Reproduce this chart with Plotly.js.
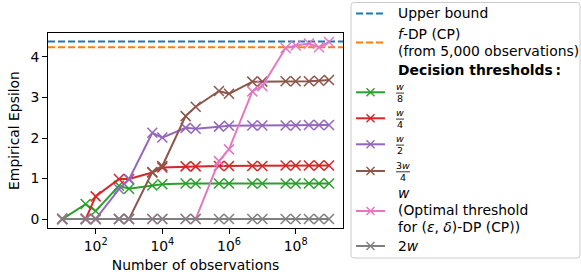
<!DOCTYPE html>
<html>
<head>
<meta charset="utf-8">
<script src="https://cdn.plot.ly/plotly-3.0.1.min.js"></script>
<style>html,body{margin:0;padding:0;background:#fff;}</style>
</head>
<body>
<div id="chart" style="width:581px;height:277px;"></div>
<script>
// ---- data ----
const observations = [10, 50, 100, 500, 1000, 5000, 1e4, 5e4, 1e5, 5e5, 1e6, 5e6, 1e7, 5e7, 1e8, 2.5e8, 5e8, 1e9];
const epsW8  = [0, 0.37, 0.20, 0.82, 0.75, 0.83, 0.86, 0.88, 0.88, 0.88, 0.88, 0.88, 0.88, 0.88, 0.88, 0.88, 0.88, 0.88];
const epsW4  = [0, 0, 0.56, 0.99, 0.99, 1.15, 1.27, 1.30, 1.30, 1.31, 1.31, 1.31, 1.31, 1.32, 1.32, 1.32, 1.32, 1.32];
const epsW2  = [0, 0, 0, 0.74, 0.98, 2.13, 2.01, 2.25, 2.23, 2.28, 2.30, 2.31, 2.31, 2.31, 2.31, 2.32, 2.32, 2.32];
const eps3W4 = [0, 0, 0, 0, 0, 1.16, 1.31, 2.54, 2.77, 3.16, 3.09, 3.39, 3.39, 3.40, 3.40, 3.40, 3.41, 3.43];
const epsW   = [0, 0, 0, 0, 0, 0, 0, 0, 0, 1.43, 1.72, 3.15, 3.28, 4.22, 4.28, 4.33, 4.24, 4.37];
const eps2W  = [0, 0, 0, 0, 0, 0, 0, 0, 0, 0, 0, 0, 0, 0, 0, 0, 0, 0];
const upperBound = 4.38;
const fdpBound = 4.24;
const xTickVals = [1e2, 1e4, 1e6, 1e8];
const xTickText = ['10<sup>2</sup>', '10<sup>4</sup>', '10<sup>6</sup>', '10<sup>8</sup>'];
const yTickVals = [0, 1, 2, 3, 4];

// ---- styles ----
const C = {blue:'#1f77b4', orange:'#ff7f0e', green:'#2ca02c', red:'#d62728', purple:'#9467bd', brown:'#8c564b', pink:'#e377c2', gray:'#7f7f7f'};
const seriesList = [
  {y: epsW8, color: C.green},
  {y: epsW4, color: C.red},
  {y: epsW2, color: C.purple},
  {y: eps3W4, color: C.brown},
  {y: epsW, color: C.pink},
  {y: eps2W, color: C.gray}
];
const traces = seriesList.map(s => ({
  x: observations, y: s.y, type: 'scatter', mode: 'lines+markers',
  line: {color: s.color, width: 2},
  marker: {symbol: 'x-thin-open', size: 10, color: s.color, line: {color: s.color, width: 1.5}},
  showlegend: false, hoverinfo: 'skip'
}));

// ---- geometry helpers (pixel -> paper) ----
const W = 581, H = 277, ML = 48, MR = 238, MT = 33, MB = 49;
const PW = W - ML - MR, PH = H - MT - MB;
const px = x => (x - ML) / PW;
const py = y => 1 - (y - MT) / PH;
const FONT = 'DejaVu Sans';
const FS = 13.9;

const shapes = [
  {type:'line', xref:'x domain', yref:'y', x0:0, x1:1, y0:upperBound, y1:upperBound, layer:'below', line:{color:C.blue, width:2, dash:'7px,3px'}},
  {type:'line', xref:'x domain', yref:'y', x0:0, x1:1, y0:fdpBound, y1:fdpBound, layer:'below', line:{color:C.orange, width:2, dash:'7px,3px'}}
];
const annotations = [];

// legend frame (rounded)
(function(){
  const x0=351, x1=580, y0=2.5, y1=258, r=3;
  const P = (x,y) => px(x).toFixed(5) + ',' + py(y).toFixed(5);
  const path = 'M' + P(x0+r,y0) + ' L' + P(x1-r,y0) + ' Q' + P(x1,y0) + ' ' + P(x1,y0+r) +
    ' L' + P(x1,y1-r) + ' Q' + P(x1,y1) + ' ' + P(x1-r,y1) + ' L' + P(x0+r,y1) +
    ' Q' + P(x0,y1) + ' ' + P(x0,y1-r) + ' L' + P(x0,y0+r) + ' Q' + P(x0,y0) + ' ' + P(x0+r,y0) + ' Z';
  shapes.push({type:'path', xref:'paper', yref:'paper', path: path, fillcolor:'rgba(255,255,255,0.8)', line:{color:'#cccccc', width:1}, layer:'above'});
})();

const keyX0 = 356, keyX1 = 385, keyMid = 370.5, textX = 396;
function keyLine(y, color, dash){
  shapes.push({type:'line', xref:'paper', yref:'paper', x0:px(keyX0), x1:px(keyX1), y0:py(y), y1:py(y), line:{color:color, width:2, dash: dash || 'solid'}});
}
function keyX(y, color){
  const a = 4;
  shapes.push({type:'line', xref:'paper', yref:'paper', x0:px(keyMid-a), x1:px(keyMid+a), y0:py(y-a), y1:py(y+a), line:{color:color, width:1.5}});
  shapes.push({type:'line', xref:'paper', yref:'paper', x0:px(keyMid-a), x1:px(keyMid+a), y0:py(y+a), y1:py(y-a), line:{color:color, width:1.5}});
}
function label(x, y, text, size, anchor){
  annotations.push({xref:'paper', yref:'paper', x:px(x), y:py(y), text:text, showarrow:false,
    xanchor: anchor || 'left', yanchor:'middle', align:'left', font:{family:FONT, size:size || FS, color:'#000'}});
}
function fraction(y, num, den, barW){
  const cx = textX + barW / 2;
  label(cx, y - 6, num, 9.5, 'center');
  label(cx, y + 6.5, den, 9.5, 'center');
  shapes.push({type:'line', xref:'paper', yref:'paper', x0:px(textX), x1:px(textX + barW), y0:py(y + 0.8), y1:py(y + 0.8), line:{color:'#000', width:0.8}});
}

keyLine(13.5, C.blue, '7px,3px');
label(textX, 13.5, 'Upper bound');
keyLine(42.5, C.orange, '7px,3px');
label(textX, 34, '<i>f</i>-DP (CP)');
label(textX, 50.5, '(from 5,000 observations)');
label(textX, 70, '<b>Decision thresholds\u2009:</b>');

const fracKeys = [
  {y: 92.3, color: C.green, num: '<i>w</i>', den: '8', w: 8},
  {y: 118.3, color: C.red, num: '<i>w</i>', den: '4', w: 8},
  {y: 144.3, color: C.purple, num: '<i>w</i>', den: '2', w: 8},
  {y: 171, color: C.brown, num: '3<i>w</i>', den: '4', w: 14}
];
fracKeys.forEach(k => { keyLine(k.y, k.color); keyX(k.y, k.color); fraction(k.y, k.num, k.den, k.w); });

keyLine(211, C.pink); keyX(211, C.pink);
label(textX, 193.3, '<i>w</i>');
label(textX, 210, '(Optimal threshold');
label(textX, 226.7, 'for (<i>ε</i>, <i>δ</i>)-DP (CP))');
keyLine(246, C.gray); keyX(246, C.gray);
label(textX, 246, '2<i>w</i>');

const layout = {
  width: W, height: H,
  margin: {l: ML, r: MR, t: MT, b: MB, pad: 0},
  paper_bgcolor: '#fff', plot_bgcolor: '#fff',
  font: {family: FONT, size: FS, color: '#000'},
  showlegend: false,
  xaxis: {
    type: 'log', range: [0.57, 9.42],
    tickvals: xTickVals, ticktext: xTickText,
    ticks: 'outside', ticklen: 5, tickwidth: 1, tickcolor: '#000',
    showline: true, mirror: true, linecolor: '#000', linewidth: 1,
    showgrid: false, zeroline: false,
    tickfont: {family: FONT, size: FS},
    title: {text: 'Number of observations', font: {family: FONT, size: FS}, standoff: 7}
  },
  yaxis: {
    range: [-0.22, 4.59],
    tickvals: yTickVals,
    ticks: 'outside', ticklen: 5, tickwidth: 1, tickcolor: '#000',
    showline: true, mirror: true, linecolor: '#000', linewidth: 1,
    showgrid: false, zeroline: false,
    tickfont: {family: FONT, size: FS},
    title: {text: 'Empirical Epsilon', font: {family: FONT, size: FS}, standoff: 7}
  },
  shapes: shapes,
  annotations: annotations
};

Plotly.newPlot('chart', traces, layout, {staticPlot: true, displayModeBar: false});
</script>
</body>
</html>
